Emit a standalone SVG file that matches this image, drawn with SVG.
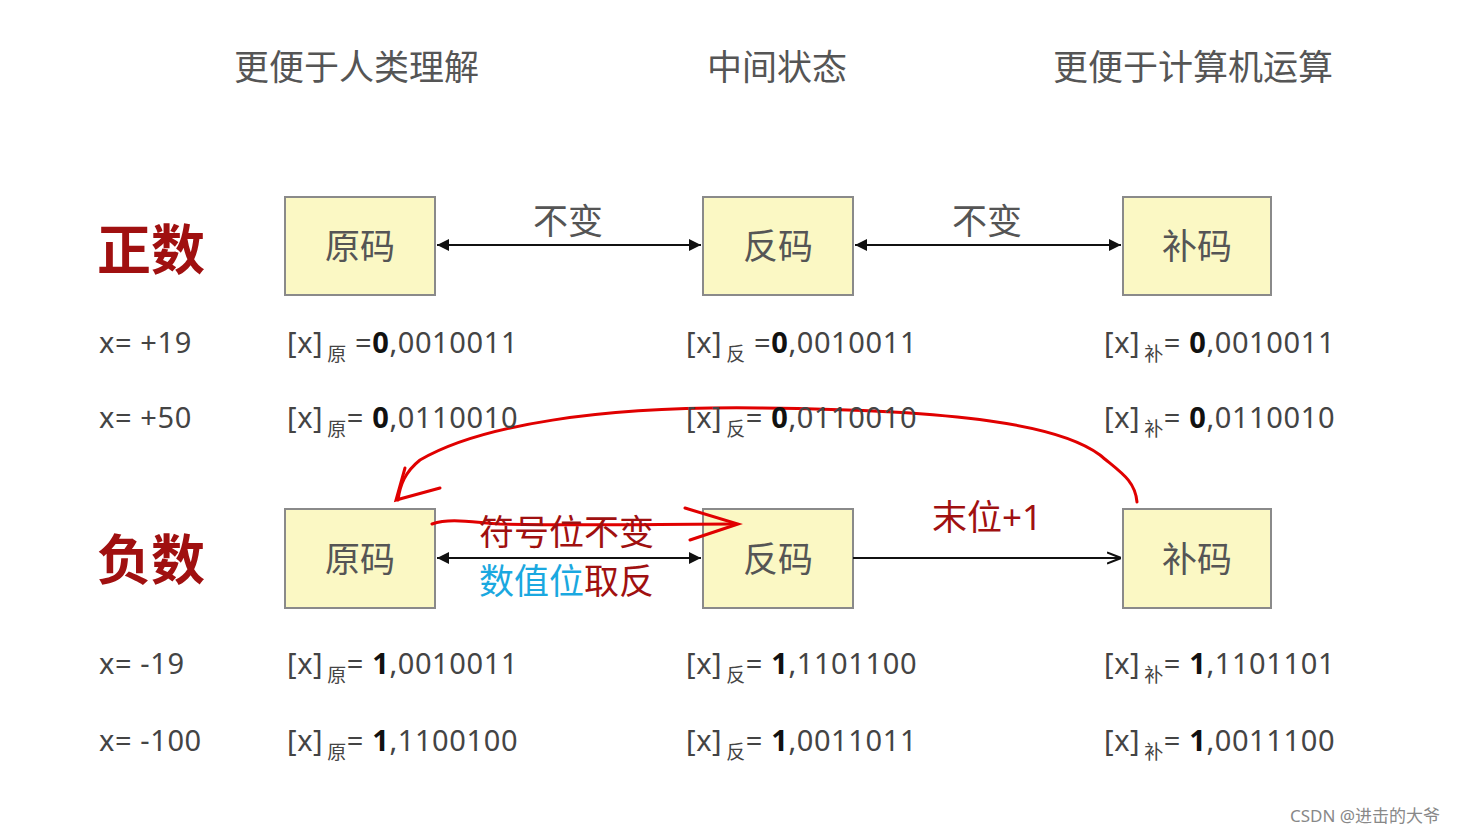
<svg xmlns="http://www.w3.org/2000/svg" width="1478" height="834" viewBox="0 0 1478 834">
<defs>
<style>
text{font-family:"Noto Sans","Noto Sans CJK SC",sans-serif;fill:#444}
.h{font-size:35px;fill:#555}
.box{fill:#fbf8c4;stroke:#8a8a8a;stroke-width:2}
.bt{font-size:35px;fill:#555;text-anchor:middle}
.big{font-size:54px;fill:#a01010;font-weight:bold}
.f{font-size:29px;letter-spacing:0.6px}
.s{font-size:19px}
.b{font-weight:bold;fill:#111}
.ln{stroke:#111;stroke-width:2;fill:none}
.red{stroke:#e00000;stroke-width:3;fill:none;stroke-linecap:round}
</style>
<marker id="a" viewBox="0 0 10 10" refX="10" refY="5" markerWidth="12" markerHeight="12" orient="auto-start-reverse" markerUnits="userSpaceOnUse"><path d="M0,0L10,5L0,10z" fill="#111"/></marker>
<marker id="o" viewBox="0 0 10 10" refX="10" refY="5" markerWidth="14" markerHeight="14" orient="auto" markerUnits="userSpaceOnUse"><path d="M0,1L10,5L0,9" fill="none" stroke="#111" stroke-width="1.5"/></marker>
</defs>
<text class="h" x="234" y="80">更便于人类理解</text>
<text class="h" x="707" y="80">中间状态</text>
<text class="h" x="1053" y="80">更便于计算机运算</text>
<text class="big" x="97" y="270">正数</text>
<text class="big" x="97" y="580">负数</text>
<g id="n1"><rect class="box" x="285" y="197" width="150" height="98"/><text class="bt" x="360" y="259">原码</text></g>
<g id="n2"><rect class="box" x="703" y="197" width="150" height="98"/><text class="bt" x="778" y="259">反码</text></g>
<g id="n3"><rect class="box" x="1123" y="197" width="148" height="98"/><text class="bt" x="1197" y="259">补码</text></g>
<g id="n4"><rect class="box" x="285" y="509" width="150" height="99"/><text class="bt" x="360" y="572">原码</text></g>
<g id="n5"><rect class="box" x="703" y="509" width="150" height="99"/><text class="bt" x="778" y="572">反码</text></g>
<g id="n6"><rect class="box" x="1123" y="509" width="148" height="99"/><text class="bt" x="1197" y="572">补码</text></g>
<g id="connectors">
<line class="ln" x1="437" y1="245" x2="701" y2="245" marker-start="url(#a)" marker-end="url(#a)"/>
<line class="ln" x1="855" y1="245" x2="1121" y2="245" marker-start="url(#a)" marker-end="url(#a)"/>
<line class="ln" x1="437" y1="558" x2="701" y2="558" marker-start="url(#a)" marker-end="url(#a)"/>
<line class="ln" x1="853" y1="558" x2="1121" y2="558" marker-end="url(#o)"/>
<path class="red" d="M1137,502C1135,480 1120,472 1100,455C1060,425 960,410 760,408C600,406 480,425 420,460C405,472 400,485 398,500"/>
<path class="red" d="M405,468L396,500L440,488"/>
<path class="red" d="M432,524C450,518 470,522 500,524C580,526 660,524 735,524"/>
<path class="red" d="M685,508L738,524L690,540"/>
</g>
<text class="h" x="533" y="234">不变</text>
<text class="h" x="952" y="234">不变</text>
<text x="479" y="545" style="font-size:35px;fill:#a01010">符号位不变</text>
<text x="479" y="594" style="font-size:35px;fill:#1aa8e0">数值位<tspan style="fill:#a01010">取反</tspan></text>
<text x="932" y="530" style="font-size:35px;fill:#a01010">末位+1</text>
<g class="f">
<text class="f" x="99" y="353">x= +19</text>
<text class="f" x="99" y="428">x= +50</text>
<text class="f" x="99" y="674">x= -19</text>
<text class="f" x="99" y="751">x= -100</text>
<text class="f" x="287" y="353">[x]<tspan class="s" dx="4" dy="8">原</tspan><tspan dy="-8"> =</tspan><tspan class="b">0</tspan>,0010011</text>
<text class="f" x="287" y="428">[x]<tspan class="s" dx="4" dy="8">原</tspan><tspan dy="-8">= </tspan><tspan class="b">0</tspan>,0110010</text>
<text class="f" x="287" y="674">[x]<tspan class="s" dx="4" dy="8">原</tspan><tspan dy="-8">= </tspan><tspan class="b">1</tspan>,0010011</text>
<text class="f" x="287" y="751">[x]<tspan class="s" dx="4" dy="8">原</tspan><tspan dy="-8">= </tspan><tspan class="b">1</tspan>,1100100</text>
<text class="f" x="686" y="353">[x]<tspan class="s" dx="4" dy="8">反</tspan><tspan dy="-8"> =</tspan><tspan class="b">0</tspan>,0010011</text>
<text class="f" x="686" y="428">[x]<tspan class="s" dx="4" dy="8">反</tspan><tspan dy="-8">= </tspan><tspan class="b">0</tspan>,0110010</text>
<text class="f" x="686" y="674">[x]<tspan class="s" dx="4" dy="8">反</tspan><tspan dy="-8">= </tspan><tspan class="b">1</tspan>,1101100</text>
<text class="f" x="686" y="751">[x]<tspan class="s" dx="4" dy="8">反</tspan><tspan dy="-8">= </tspan><tspan class="b">1</tspan>,0011011</text>
<text class="f" x="1104" y="353">[x]<tspan class="s" dx="4" dy="8">补</tspan><tspan dy="-8">= </tspan><tspan class="b">0</tspan>,0010011</text>
<text class="f" x="1104" y="428">[x]<tspan class="s" dx="4" dy="8">补</tspan><tspan dy="-8">= </tspan><tspan class="b">0</tspan>,0110010</text>
<text class="f" x="1104" y="674">[x]<tspan class="s" dx="4" dy="8">补</tspan><tspan dy="-8">= </tspan><tspan class="b">1</tspan>,1101101</text>
<text class="f" x="1104" y="751">[x]<tspan class="s" dx="4" dy="8">补</tspan><tspan dy="-8">= </tspan><tspan class="b">1</tspan>,0011100</text>
</g>
<text x="1290" y="822" style="font-size:17px;fill:#888">CSDN @进击的大爷</text>
</svg>
